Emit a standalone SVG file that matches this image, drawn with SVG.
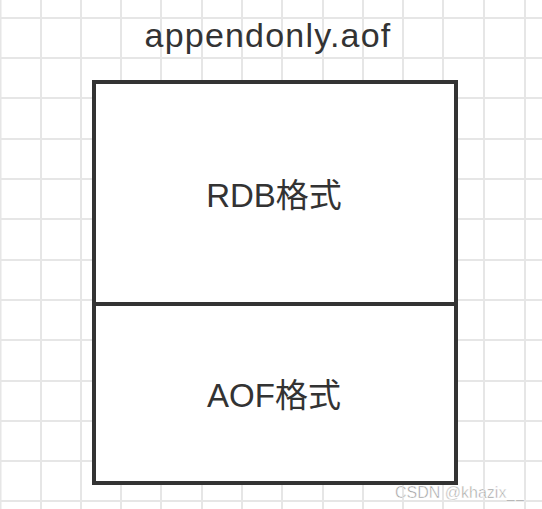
<svg xmlns="http://www.w3.org/2000/svg" width="542" height="509" viewBox="0 0 542 509">
<defs>
<style>
.grid line{stroke:#e6e6e6;stroke-width:2}
.box{fill:#fff;stroke:#333;stroke-width:4}
.t{font-family:"Liberation Sans","Noto Sans CJK SC",sans-serif;font-size:33px;fill:#333;text-anchor:middle}
.wm{font-family:"Liberation Sans","Noto Sans CJK SC",sans-serif;font-size:16px;fill:#999;stroke:#fff;stroke-width:0.5}
</style>
</defs>
<rect width="542" height="509" fill="#fff"/>
<g class="grid">
<line x1="0.5" y1="0" x2="0.5" y2="509"/>
<line x1="41" y1="0" x2="41" y2="509"/>
<line x1="81" y1="0" x2="81" y2="509"/>
<line x1="121" y1="0" x2="121" y2="509"/>
<line x1="161" y1="0" x2="161" y2="509"/>
<line x1="202" y1="0" x2="202" y2="509"/>
<line x1="242" y1="0" x2="242" y2="509"/>
<line x1="282" y1="0" x2="282" y2="509"/>
<line x1="323" y1="0" x2="323" y2="509"/>
<line x1="363" y1="0" x2="363" y2="509"/>
<line x1="403" y1="0" x2="403" y2="509"/>
<line x1="443" y1="0" x2="443" y2="509"/>
<line x1="484" y1="0" x2="484" y2="509"/>
<line x1="525" y1="0" x2="525" y2="509"/>
<line x1="0" y1="18" x2="542" y2="18"/>
<line x1="0" y1="58" x2="542" y2="58"/>
<line x1="0" y1="98" x2="542" y2="98"/>
<line x1="0" y1="139" x2="542" y2="139"/>
<line x1="0" y1="179" x2="542" y2="179"/>
<line x1="0" y1="219" x2="542" y2="219"/>
<line x1="0" y1="260" x2="542" y2="260"/>
<line x1="0" y1="300" x2="542" y2="300"/>
<line x1="0" y1="340" x2="542" y2="340"/>
<line x1="0" y1="381" x2="542" y2="381"/>
<line x1="0" y1="421" x2="542" y2="421"/>
<line x1="0" y1="461" x2="542" y2="461"/>
<line x1="0" y1="501" x2="542" y2="501"/>
</g>
<text class="t" x="268" y="47" style="font-size:34px;letter-spacing:1.2px">appendonly.aof</text>
<g id="rdb">
<rect class="box" x="94" y="82" width="362" height="222"/>
<text class="t" x="274" y="207">RDB格式</text>
</g>
<g id="aof">
<rect class="box" x="94" y="304" width="362" height="179"/>
<text class="t" x="274" y="407">AOF格式</text>
</g>
<g id="connectors"/>
<text class="wm" x="395" y="498">CSDN @khazix__</text>
</svg>
